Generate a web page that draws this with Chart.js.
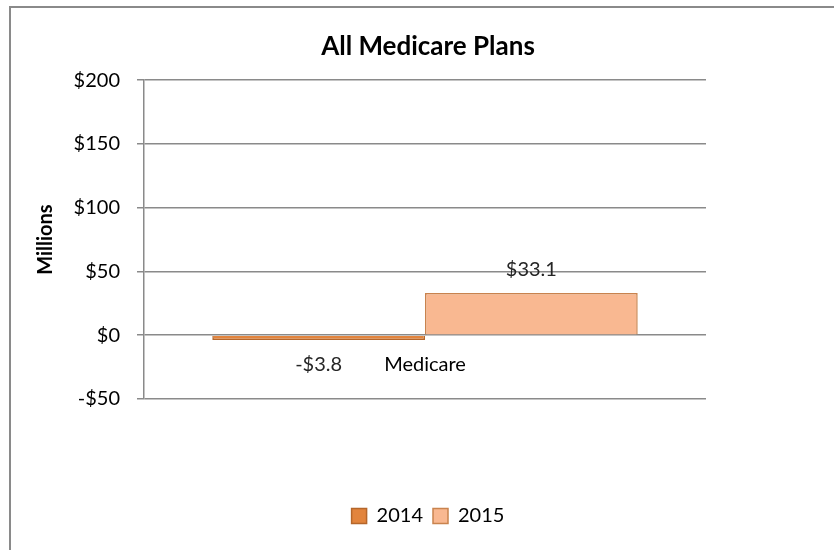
<!DOCTYPE html>
<html>
<head>
<meta charset="utf-8">
<script src="https://cdn.jsdelivr.net/npm/chart.js@4"></script>
<style>
  html, body { margin: 0; padding: 0; background: #fff; }
  #wrap { position: relative; width: 834px; height: 550px; overflow: hidden; }
  #frame { position: absolute; left: 9px; top: 6px; width: 900px; height: 600px;
           border-top: 2px solid #8a8a8a; border-left: 2px solid #8a8a8a; }
  canvas { position: absolute; left: 0; top: 0; }
</style>
</head>
<body>
<div id="wrap">
  <div id="frame"></div>
  <canvas id="chart" width="834" height="550"></canvas>
</div>
<script>
// Chart data
const categories = ['Medicare'];
const seriesNames = ['2014', '2015'];
const values2014 = [-3.8];
const values2015 = [33.1];
const yTicks = [-50, 0, 50, 100, 150, 200];

const FONT = 'Lato, "Open Sans", sans-serif';
const GRID = '#8a8a8a';

function money(v, digits) {
    const s = '$' + Math.abs(v).toFixed(digits);
    return v < 0 ? '-' + s : s;
}

// Draws the value labels beside the bar ends
const barLabels = {
    id: 'barLabels',
    afterDatasetsDraw(chart) {
        const ctx = chart.ctx;
        ctx.save();
        ctx.font = '20px ' + FONT;
        ctx.fillStyle = '#262626';
        ctx.textAlign = 'center';
        ctx.textBaseline = 'middle';
        chart.data.datasets.forEach((ds, i) => {
            chart.getDatasetMeta(i).data.forEach((bar, j) => {
                const v = ds.data[j];
                const y = v < 0 ? bar.y + 24 : bar.y - 23;
                ctx.fillText(money(v, 1), bar.x, y);
            });
        });
        ctx.restore();
    }
};

new Chart(document.getElementById('chart'), {
    type: 'bar',
    data: {
        labels: categories,
        datasets: [{
            label: seriesNames[0],
            data: values2014,
            backgroundColor: '#E2843D',
            borderColor: '#B5662A',
            borderWidth: 1.5,
            xAxisID: 'x'
        }, {
            label: seriesNames[1],
            data: values2015,
            backgroundColor: '#F9B891',
            borderColor: '#C9834E',
            borderWidth: 1.5,
            xAxisID: 'x'
        }]
    },
    options: {
        responsive: false,
        animation: false,
        barPercentage: 1,
        categoryPercentage: 0.757,
        layout: { padding: { left: 22, right: 0, top: 0, bottom: 14 } },
        plugins: {
            title: {
                display: true,
                text: 'All Medicare Plans',
                color: '#000',
                font: { family: FONT, size: 26, weight: 'bold' },
                padding: { top: 31, bottom: 18 }
            },
            legend: {
                position: 'bottom',
                labels: {
                    color: '#000',
                    font: { family: FONT, size: 20 },
                    boxWidth: 15,
                    boxHeight: 15,
                    padding: 10
                }
            },
            tooltip: { enabled: false }
        },
        scales: {
            x: {
                type: 'category',
                position: { y: 0 },
                grid: { display: false },
                border: { display: false },
                ticks: { color: '#000', font: { family: FONT, size: 20 }, padding: 9 }
            },
            y: {
                min: yTicks[0],
                max: yTicks[yTicks.length - 1],
                afterBuildTicks: axis => { axis.ticks = yTicks.map(v => ({ value: v })); },
                afterFit: axis => { axis.width = 122; },
                grid: { color: GRID, lineWidth: 1.5, tickLength: 7 },
                border: { color: GRID, width: 1.5 },
                ticks: {
                    color: '#000',
                    font: { family: FONT, size: 20 },
                    padding: 17,
                    callback: v => money(v, 0)
                },
                title: {
                    display: true,
                    text: 'Millions',
                    color: '#000',
                    font: { family: FONT, size: 20, weight: 'bold' },
                    padding: { top: 12, bottom: 0 }
                }
            },
            // spacer axes that reserve room to the right and below the plot
            yPad: {
                type: 'linear',
                position: 'right',
                display: true,
                afterFit: axis => { axis.width = 128; },
                grid: { display: false },
                border: { display: false },
                ticks: { display: false }
            },
            xPad: {
                type: 'linear',
                axis: 'x',
                position: 'bottom',
                display: true,
                afterFit: axis => { axis.height = 97; },
                grid: { display: false },
                border: { display: false },
                ticks: { display: false }
            }
        }
    },
    plugins: [barLabels]
});
</script>
</body>
</html>
